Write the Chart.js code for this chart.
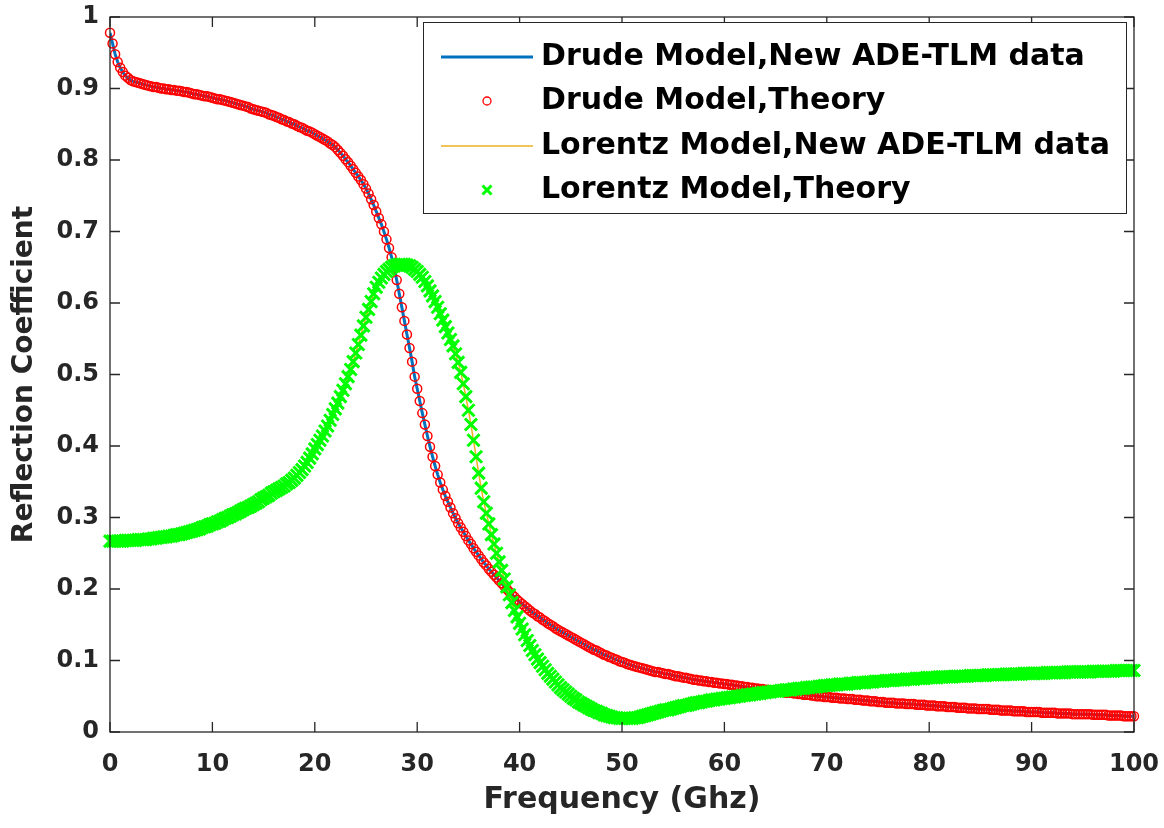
<!DOCTYPE html>
<html lang="en">
<head>
<meta charset="UTF-8" />
<title>Reflection Coefficient vs Frequency</title>
<script src="https://cdn.jsdelivr.net/npm/chart.js"></script>
<style>
  html, body { margin: 0; padding: 0; background: #fff; }
</style>
</head>
<body>
<canvas id="myChart" width="1164" height="828"></canvas>
<script>
// sampled every 0.25 GHz, 0 .. 100 GHz
const freqStepGHz = 0.25;

const drudeTheory = [
  0.978,
  0.963,0.948,0.937,0.929,0.923,0.918,0.915,0.912,0.910,0.909,0.908,0.907,0.906,0.905,0.904,0.903,0.902,0.902,0.901,0.900,
  0.900,0.899,0.899,0.898,0.898,0.897,0.897,0.896,0.895,0.895,0.894,0.893,0.892,0.892,0.891,0.890,0.889,0.889,0.888,0.887,
  0.886,0.885,0.885,0.884,0.883,0.882,0.881,0.880,0.879,0.878,0.877,0.876,0.875,0.874,0.872,0.871,0.870,0.869,0.868,0.867,
  0.866,0.864,0.863,0.862,0.860,0.859,0.857,0.856,0.854,0.853,0.851,0.850,0.848,0.846,0.845,0.843,0.841,0.840,0.838,0.836,
  0.834,0.832,0.830,0.828,0.826,0.823,0.821,0.818,0.814,0.810,0.806,0.801,0.797,0.792,0.787,0.782,0.777,0.772,0.766,0.760,
  0.753,0.745,0.737,0.728,0.719,0.710,0.700,0.689,0.677,0.664,0.649,0.632,0.613,0.594,0.575,0.556,0.537,0.518,0.497,0.480,
  0.463,0.446,0.430,0.414,0.399,0.385,0.372,0.360,0.349,0.339,0.330,0.322,0.314,0.306,0.299,0.292,0.286,0.280,0.274,0.268,
  0.263,0.257,0.252,0.247,0.242,0.237,0.233,0.228,0.224,0.220,0.216,0.212,0.208,0.204,0.200,0.196,0.192,0.189,0.185,0.182,
  0.179,0.176,0.173,0.170,0.167,0.165,0.162,0.160,0.157,0.155,0.152,0.150,0.148,0.145,0.143,0.141,0.139,0.137,0.135,0.133,
  0.131,0.129,0.127,0.125,0.123,0.121,0.119,0.117,0.115,0.114,0.112,0.110,0.108,0.107,0.105,0.104,0.102,0.101,0.099,0.098,
  0.097,0.095,0.094,0.093,0.092,0.091,0.090,0.089,0.088,0.087,0.086,0.085,0.084,0.084,0.083,0.082,0.081,0.081,0.080,0.079,
  0.078,0.078,0.077,0.076,0.076,0.075,0.074,0.073,0.073,0.072,0.072,0.071,0.071,0.070,0.070,0.069,0.069,0.068,0.068,0.067,
  0.067,0.066,0.066,0.065,0.065,0.064,0.064,0.063,0.063,0.062,0.062,0.061,0.061,0.060,0.060,0.059,0.059,0.058,0.058,0.057,
  0.057,0.056,0.056,0.055,0.055,0.055,0.054,0.054,0.053,0.053,0.052,0.052,0.052,0.051,0.051,0.050,0.050,0.050,0.049,0.049,
  0.049,0.048,0.048,0.048,0.047,0.047,0.047,0.046,0.046,0.046,0.045,0.045,0.045,0.044,0.044,0.044,0.043,0.043,0.043,0.042,
  0.042,0.042,0.041,0.041,0.041,0.041,0.040,0.040,0.040,0.040,0.039,0.039,0.039,0.039,0.038,0.038,0.038,0.038,0.037,0.037,
  0.037,0.037,0.036,0.036,0.036,0.036,0.035,0.035,0.035,0.035,0.034,0.034,0.034,0.034,0.033,0.033,0.033,0.033,0.032,0.032,
  0.032,0.032,0.032,0.031,0.031,0.031,0.031,0.030,0.030,0.030,0.030,0.030,0.029,0.029,0.029,0.029,0.029,0.028,0.028,0.028,
  0.028,0.028,0.028,0.027,0.027,0.027,0.027,0.027,0.027,0.026,0.026,0.026,0.026,0.026,0.026,0.025,0.025,0.025,0.025,0.025,
  0.025,0.025,0.025,0.024,0.024,0.024,0.024,0.024,0.024,0.023,0.023,0.023,0.023,0.023,0.023,0.022,0.022,0.022,0.022,0.022
];

const lorentzTheory = [
  0.267,
  0.267,0.267,0.267,0.267,0.267,0.268,0.268,0.268,0.268,0.268,0.269,0.269,0.269,0.269,0.270,0.270,0.271,0.271,0.272,0.272,
  0.273,0.273,0.274,0.274,0.275,0.276,0.276,0.277,0.278,0.279,0.280,0.281,0.282,0.283,0.284,0.286,0.287,0.288,0.290,0.291,
  0.292,0.294,0.295,0.297,0.299,0.300,0.302,0.304,0.305,0.307,0.309,0.311,0.313,0.314,0.316,0.318,0.320,0.322,0.325,0.327,
  0.329,0.331,0.334,0.336,0.338,0.340,0.342,0.344,0.347,0.349,0.352,0.355,0.359,0.363,0.367,0.372,0.377,0.383,0.389,0.396,
  0.402,0.408,0.414,0.421,0.428,0.436,0.444,0.452,0.460,0.469,0.478,0.487,0.497,0.507,0.518,0.530,0.542,0.555,0.568,0.580,
  0.591,0.602,0.613,0.622,0.629,0.635,0.640,0.644,0.647,0.650,0.652,0.653,0.654,0.654,0.654,0.653,0.652,0.650,0.647,0.644,
  0.640,0.636,0.630,0.624,0.617,0.610,0.602,0.594,0.585,0.576,0.567,0.558,0.549,0.540,0.529,0.517,0.503,0.487,0.469,0.450,
  0.430,0.408,0.385,0.362,0.341,0.322,0.306,0.291,0.276,0.263,0.250,0.238,0.226,0.214,0.203,0.192,0.181,0.170,0.161,0.152,
  0.144,0.136,0.128,0.121,0.114,0.108,0.102,0.097,0.092,0.087,0.082,0.078,0.074,0.070,0.066,0.062,0.059,0.056,0.053,0.050,
  0.047,0.045,0.042,0.040,0.038,0.036,0.034,0.032,0.030,0.029,0.027,0.026,0.024,0.023,0.022,0.021,0.020,0.020,0.019,0.019,
  0.019,0.019,0.019,0.019,0.020,0.020,0.021,0.022,0.023,0.024,0.025,0.026,0.027,0.028,0.029,0.030,0.031,0.031,0.032,0.033,
  0.034,0.035,0.036,0.037,0.037,0.038,0.039,0.040,0.041,0.041,0.042,0.043,0.043,0.044,0.045,0.045,0.046,0.046,0.047,0.047,
  0.048,0.048,0.049,0.049,0.050,0.050,0.051,0.051,0.052,0.052,0.053,0.053,0.054,0.054,0.055,0.055,0.056,0.056,0.057,0.057,
  0.057,0.058,0.058,0.059,0.059,0.059,0.060,0.060,0.061,0.061,0.061,0.062,0.062,0.063,0.063,0.063,0.064,0.064,0.065,0.065,
  0.065,0.066,0.066,0.066,0.067,0.067,0.067,0.067,0.068,0.068,0.068,0.069,0.069,0.069,0.069,0.070,0.070,0.070,0.071,0.071,
  0.071,0.071,0.072,0.072,0.072,0.072,0.073,0.073,0.073,0.073,0.074,0.074,0.074,0.074,0.075,0.075,0.075,0.075,0.076,0.076,
  0.076,0.076,0.076,0.077,0.077,0.077,0.077,0.077,0.077,0.078,0.078,0.078,0.078,0.078,0.078,0.079,0.079,0.079,0.079,0.079,
  0.079,0.079,0.080,0.080,0.080,0.080,0.080,0.080,0.080,0.081,0.081,0.081,0.081,0.081,0.081,0.081,0.082,0.082,0.082,0.082,
  0.082,0.082,0.082,0.082,0.082,0.083,0.083,0.083,0.083,0.083,0.083,0.083,0.083,0.084,0.084,0.084,0.084,0.084,0.084,0.084,
  0.084,0.084,0.084,0.085,0.085,0.085,0.085,0.085,0.085,0.085,0.085,0.085,0.086,0.086,0.086,0.086,0.086,0.086,0.086,0.086
];

// the ADE-TLM curves lie right on top of the theory points
const drudeAdeTlm = drudeTheory;
const lorentzAdeTlm = lorentzTheory;

const seriesLabels = [
  "Drude Model,New ADE-TLM data",
  "Drude Model,Theory",
  "Lorentz Model,New ADE-TLM data",
  "Lorentz Model,Theory",
];

const axisColor = "#262626";
const fontFamily = "'DejaVu Sans', 'Liberation Sans', sans-serif";

const toPoints = (vals) => vals.map((v, i) => ({ x: i * freqStepGHz, y: v }));

// MATLAB style box with inward ticks on all four sides
const axesBoxPlugin = {
  id: "axesBox",
  afterDatasetsDraw(chart) {
    const { ctx, chartArea: a, scales } = chart;
    const tickLen = 10;
    ctx.save();
    ctx.strokeStyle = axisColor;
    ctx.lineWidth = 1.3;
    ctx.strokeRect(a.left, a.top, a.right - a.left, a.bottom - a.top);
    ctx.beginPath();
    scales.x.ticks.forEach((t) => {
      const px = scales.x.getPixelForValue(t.value);
      ctx.moveTo(px, a.bottom);
      ctx.lineTo(px, a.bottom - tickLen);
      ctx.moveTo(px, a.top);
      ctx.lineTo(px, a.top + tickLen);
    });
    scales.y.ticks.forEach((t) => {
      const py = scales.y.getPixelForValue(t.value);
      ctx.moveTo(a.left, py);
      ctx.lineTo(a.left + tickLen, py);
      ctx.moveTo(a.right, py);
      ctx.lineTo(a.right - tickLen, py);
    });
    ctx.stroke();
    ctx.restore();
  },
};

// boxed legend in the upper right of the axes
const boxLegendPlugin = {
  id: "boxLegend",
  afterDraw(chart) {
    const { ctx, chartArea: a } = chart;
    const left = a.left + 313;
    const right = a.right - 8;
    const top = a.top + 5;
    const bottom = a.top + 196;
    const rows = [40, 84, 129, 173];
    ctx.save();
    ctx.fillStyle = "#fff";
    ctx.fillRect(left, top, right - left, bottom - top);
    ctx.strokeStyle = axisColor;
    ctx.lineWidth = 1;
    ctx.strokeRect(left + 0.5, top + 0.5, right - left, bottom - top);

    chart.data.datasets.forEach((ds, i) => {
      const y = a.top + rows[i];
      const cx = left + 64;
      ctx.save();
      if (ds.showLine) {
        ctx.strokeStyle = ds.borderColor;
        ctx.lineWidth = ds.borderWidth;
        ctx.beginPath();
        ctx.moveTo(left + 18, y);
        ctx.lineTo(left + 110, y);
        ctx.stroke();
      } else if (ds.pointStyle === "circle") {
        ctx.strokeStyle = ds.pointBorderColor;
        ctx.lineWidth = 1.3;
        ctx.beginPath();
        ctx.arc(cx, y, 4, 0, Math.PI * 2);
        ctx.stroke();
      } else {
        const d = 4.5;
        ctx.strokeStyle = ds.pointBorderColor;
        ctx.lineWidth = 3;
        ctx.beginPath();
        ctx.moveTo(cx - d, y - d);
        ctx.lineTo(cx + d, y + d);
        ctx.moveTo(cx - d, y + d);
        ctx.lineTo(cx + d, y - d);
        ctx.stroke();
      }
      ctx.restore();
      ctx.fillStyle = "#000";
      ctx.font = "bold 30px " + fontFamily;
      ctx.textAlign = "left";
      ctx.textBaseline = "middle";
      ctx.fillText(ds.label, left + 118, y);
    });
    ctx.restore();
  },
};

const ctx = document.getElementById("myChart").getContext("2d");

new Chart(ctx, {
  type: "scatter",
  data: {
    datasets: [
      {
        label: seriesLabels[0],
        data: toPoints(drudeAdeTlm),
        showLine: true,
        borderColor: "#0072BD",
        borderWidth: 3,
        pointRadius: 0,
        order: 4,
      },
      {
        label: seriesLabels[1],
        data: toPoints(drudeTheory),
        showLine: false,
        pointStyle: "circle",
        pointRadius: 4.5,
        pointBorderWidth: 1.5,
        pointBorderColor: "#FF0000",
        pointBackgroundColor: "rgba(0,0,0,0)",
        clip: false,
        order: 3,
      },
      {
        label: seriesLabels[2],
        data: toPoints(lorentzAdeTlm),
        showLine: true,
        borderColor: "#EDB120",
        borderWidth: 1.5,
        pointRadius: 0,
        order: 2,
      },
      {
        label: seriesLabels[3],
        data: toPoints(lorentzTheory),
        showLine: false,
        pointStyle: "crossRot",
        pointRadius: 8.5,
        pointBorderWidth: 3,
        pointBorderColor: "#00FF00",
        pointBackgroundColor: "#00FF00",
        clip: false,
        order: 1,
      },
    ],
  },
  options: {
    responsive: false,
    animation: false,
    events: [],
    layout: { padding: { left: 0, top: 17, right: 30, bottom: 0 } },
    plugins: {
      legend: { display: false },
      tooltip: { enabled: false },
    },
    scales: {
      x: {
        type: "linear",
        min: 0,
        max: 100,
        ticks: {
          stepSize: 10,
          padding: 18,
          color: axisColor,
          font: { family: fontFamily, size: 24, weight: "bold" },
        },
        grid: { display: false, drawTicks: false },
        border: { display: false },
        title: {
          display: true,
          text: "Frequency (Ghz)",
          color: axisColor,
          font: { family: fontFamily, size: 30, weight: "bold" },
          padding: { top: 0, bottom: 10 },
        },
        afterFit(scale) {
          scale.height = 96;
          scale.paddingLeft = 0;
          scale.paddingRight = 0;
        },
      },
      y: {
        type: "linear",
        min: 0,
        max: 1,
        ticks: {
          stepSize: 0.1,
          padding: 11,
          color: axisColor,
          font: { family: fontFamily, size: 24, weight: "bold" },
          callback: (v) => String(Number(v.toFixed(1))),
        },
        grid: { display: false, drawTicks: false },
        border: { display: false },
        title: {
          display: true,
          text: "Reflection Coefficient",
          color: axisColor,
          font: { family: fontFamily, size: 28, weight: "bold" },
          padding: { top: 8, bottom: 0 },
        },
        afterFit(scale) {
          scale.width = 110;
          scale.paddingTop = 0;
          scale.paddingBottom = 0;
        },
      },
    },
  },
  plugins: [axesBoxPlugin, boxLegendPlugin],
});
</script>
</body>
</html>
